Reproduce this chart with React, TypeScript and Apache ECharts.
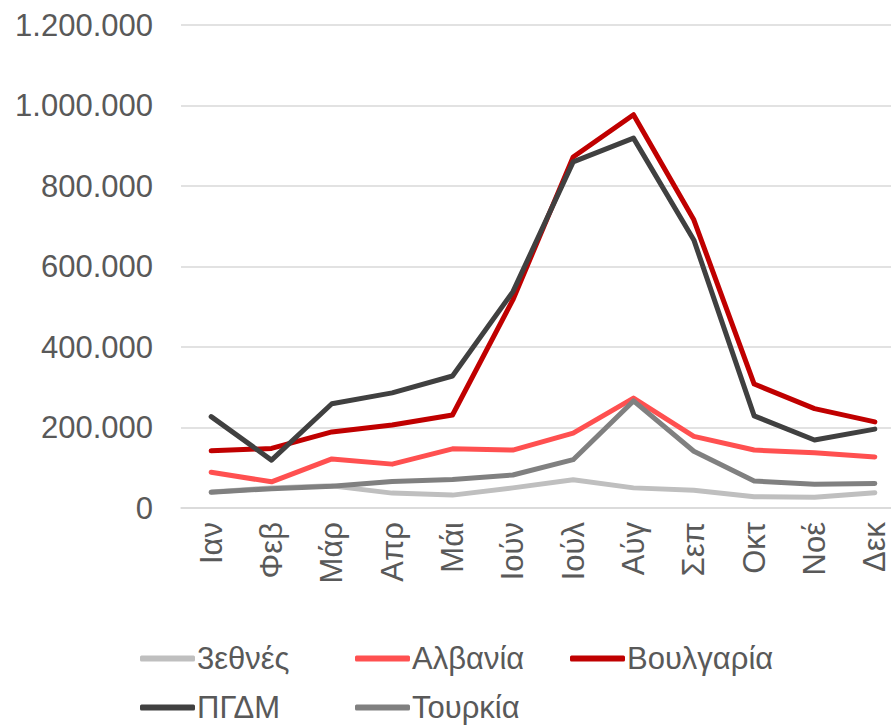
import React, { useEffect, useRef } from "react";
import * as echarts from "echarts";

const months = ["Ιαν", "Φεβ", "Μάρ", "Απρ", "Μάι", "Ιούν", "Ιούλ", "Αύγ", "Σεπ", "Οκτ", "Νοέ", "Δεκ"];
const seriesNames = ["3εθνές", "Αλβανία", "Βουλγαρία", "ΠΓΔΜ", "Τουρκία"];
const intl = [40000, 50000, 55000, 37000, 32000, 50000, 70000, 50000, 44000, 28000, 27000, 38000];
const albania = [89000, 65000, 122000, 109000, 147000, 144000, 186000, 273000, 178000, 144000, 137000, 127000];
const bulgaria = [142000, 148000, 189000, 206000, 231000, 517000, 872000, 977000, 716000, 308000, 247000, 214000];
const fyrom = [227000, 119000, 259000, 286000, 328000, 537000, 860000, 919000, 666000, 229000, 169000, 196000];
const turkey = [39000, 48000, 54000, 66000, 71000, 82000, 120000, 266000, 141000, 67000, 59000, 61000];
const yTicks = [0, 200000, 400000, 600000, 800000, 1000000, 1200000];

const colors = ["#BFBFBF", "#FF5050", "#C00000", "#404040", "#808080"];
const values = [intl, albania, bulgaria, fyrom, turkey];

const FONT = "'Liberation Sans', Arial, sans-serif";
const TEXT = "#595959";
const FS = 31;

function fmt(v: number) {
  return String(Math.round(v)).replace(/\B(?=(\d{3})+(?!\d))/g, ".");
}

export default function App() {
  const ref = useRef<HTMLDivElement>(null);
  useEffect(() => {
    if (!ref.current) return;
    const chart = echarts.init(ref.current, undefined, { renderer: "svg" });
    const legendBase = {
      orient: "vertical" as const,
      top: 643,
      itemWidth: 55,
      itemHeight: 6,
      itemGap: 18,
      icon: "roundRect",
      textStyle: { color: TEXT, fontSize: FS, fontFamily: FONT, padding: [0, 0, 0, -3] },
      padding: 0,
    };
    chart.setOption({
      animation: false,
      backgroundColor: "#ffffff",
      grid: { left: 181, right: 0, top: 25, bottom: 217, containLabel: false },
      xAxis: {
        type: "category",
        data: months,
        boundaryGap: true,
        axisLine: { show: true, lineStyle: { color: "#D9D9D9", width: 1.5 } },
        axisTick: { show: false },
        axisLabel: {
          rotate: 90,
          margin: 14,
          color: TEXT,
          fontSize: FS,
          fontFamily: FONT,
          interval: 0,
        },
      },
      yAxis: {
        type: "value",
        min: yTicks[0],
        max: yTicks[yTicks.length - 1],
        interval: 200000,
        axisLine: { show: false },
        axisTick: { show: false },
        splitLine: { lineStyle: { color: "#D9D9D9", width: 1.5 } },
        axisLabel: {
          margin: 28,
          color: TEXT,
          fontSize: FS,
          fontFamily: FONT,
          formatter: (v: number) => fmt(v),
        },
      },
      legend: [
        { ...legendBase, left: 140, data: [seriesNames[0], seriesNames[3]] },
        { ...legendBase, left: 355, data: [seriesNames[1], seriesNames[4]] },
        { ...legendBase, left: 570, data: [seriesNames[2]] },
      ],
      series: seriesNames.map((name, i) => ({
        name,
        type: "line",
        data: values[i],
        showSymbol: false,
        symbol: "none",
        color: colors[i],
        lineStyle: { color: colors[i], width: 5, cap: "round", join: "round" },
      })),
    });
    return () => chart.dispose();
  }, []);
  return (
    <div
      ref={ref}
      style={{ position: "fixed", left: 0, top: 0, width: 905, height: 725, background: "#fff" }}
    />
  );
}
